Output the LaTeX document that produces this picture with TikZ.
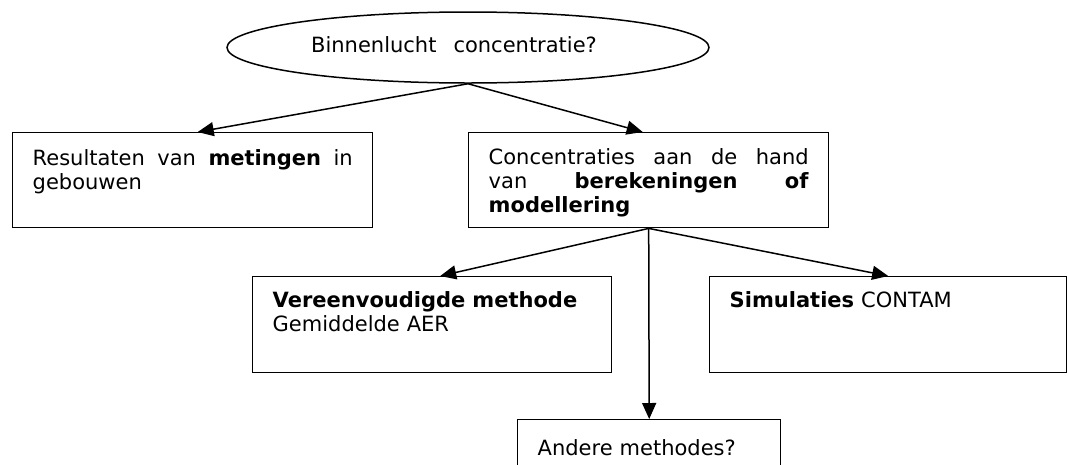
\documentclass[tikz,border=0pt]{standalone}
\usepackage{fontspec}
\setmainfont{DejaVu Sans}
\usetikzlibrary{shapes.geometric,arrows.meta}
% a line set to the full text width, words spread evenly
\newcommand{\fullline}[1]{\leavevmode\hbox to 320pt{#1}}
\begin{document}
\begin{tikzpicture}[x=1pt,y=-1pt,
  every node/.style={font=\fontsize{21}{24}\selectfont},
  box/.style={draw, line width=1.4pt, rectangle, anchor=north west,
              inner xsep=20pt, inner ysep=0pt, align=left},
  link/.style={line width=1.5pt, -{Triangle[length=16pt,width=14pt]}}]
% page frame
\useasboundingbox (0,0) rectangle (1068,464);
\clip (0,0) rectangle (1068,464);
\fill[white] (0,0) rectangle (1068,464);

% question
\node[draw, ellipse, line width=1.5pt, minimum width=482pt, minimum height=71pt,
      inner sep=0pt, text height=16pt, text depth=7pt] (vraag) at (468,47.5)
  {Binnenlucht\hspace{17pt}concentratie?\hspace*{28pt}};

% first level
\node[box, text width=320pt, text height=33pt, text depth=62pt] (meting) at (12,132)
  {\fullline{Resultaten\hfil van\hfil\textbf{metingen}\hfil in}\\gebouwen};
\node[box, text width=320pt, text height=32pt, text depth=63pt] (reken) at (468,132)
  {\fullline{Concentraties\hfil aan\hfil de\hfil hand}\\
   \fullline{van\hfil\textbf{berekeningen}\hfil\textbf{of}}\\
   \textbf{modellering}};

% second level
\node[box, text width=319pt, text height=31pt, text depth=65pt] (eenvoud) at (252,276)
  {\textbf{Vereenvoudigde methode}\\Gemiddelde AER};
\node[box, text width=317pt, text height=31pt, text depth=65pt] (sim) at (709,276)
  {\textbf{Simulaties} CONTAM};
\node[box, text width=223pt, text height=36pt, text depth=60pt] (ander) at (517,419)
  {Andere methodes?};

% connectors
\draw[link] (vraag.south) -- ([xshift=5pt]meting.north);
\draw[link] (vraag.south) -- ([xshift=-6pt]reken.north);
\draw[link] (reken.south) -- ([xshift=8pt]eenvoud.north);
\draw[link] (reken.south) -- (sim.north);
\draw[link] (reken.south) -- (ander.north);
\end{tikzpicture}
\end{document}
